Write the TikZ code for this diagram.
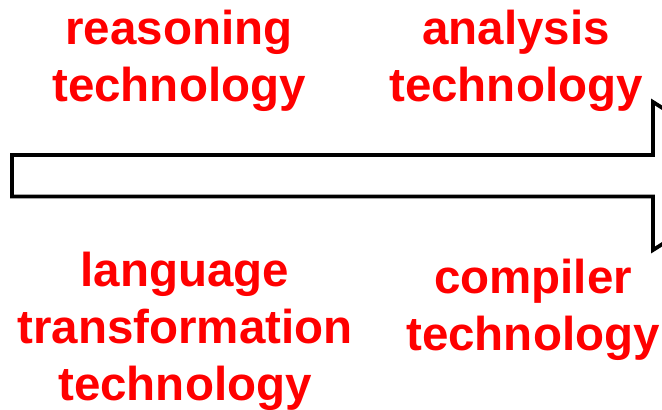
\documentclass[tikz,border=0pt]{standalone}
\usepackage{fontspec}
\setmainfont{Liberation Sans}
\definecolor{labelred}{HTML}{FF0000}

\begin{document}
\begin{tikzpicture}[
            x=1pt, y=-1pt,
            tech/.style={align=center, text=labelred, inner sep=0pt, anchor=base,
                         font=\fontsize{47.5}{57}\selectfont\bfseries},
            bigarrow/.style={draw=black, line width=3.8pt, fill=white, line join=miter}
        ]
            \useasboundingbox (0,0) rectangle (662,410);
            \begin{scope}
                \clip (0,0) rectangle (662,410);
                % block arrow, its tip runs off the right edge
                \draw[bigarrow] (12,155) -- (653,155) -- (653,102) -- (770,176)
                    -- (653,250) -- (653,196.5) -- (12,196.5) -- cycle;
            \end{scope}

            % base anchor sits on the last line
            \node[tech] (reasoning) at (179,101) {reasoning\\technology};
            \node[tech] (analysis) at (516,101) {analysis\\technology};
            \node[tech] (language) at (185,400) {language\\transformation\\technology};
            \node[tech] (compiler) at (533,350) {compiler\\technology};
        \end{tikzpicture}
\end{document}
